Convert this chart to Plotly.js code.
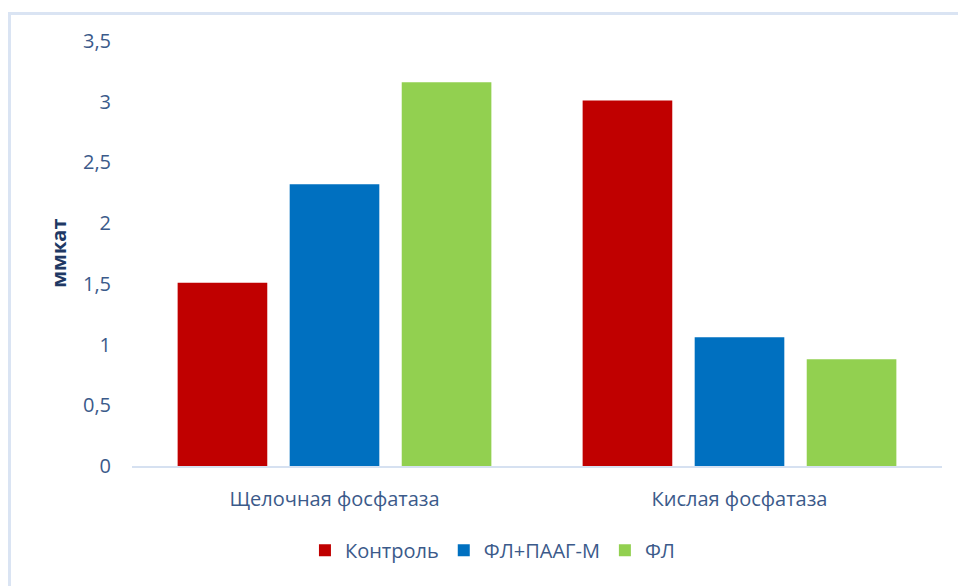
<!DOCTYPE html>
<html>
<head>
<meta charset="utf-8">
<script src="https://cdn.plot.ly/plotly-3.0.1.min.js"></script>
<style>
  html, body { margin: 0; padding: 0; background: #ffffff; }
  #wrap { position: relative; width: 958px; height: 586px; overflow: hidden; }
  #chart { position: absolute; left: 0; top: 0; width: 958px; height: 586px; }
  #frame { position: absolute; left: 8px; top: 12px; width: 960px; height: 600px;
           border-left: 3px solid #dae4f3; border-top: 3px solid #dae4f3; pointer-events: none; }
</style>
</head>
<body>
<div id="wrap">
  <div id="chart"></div>
  <div id="frame"></div>
</div>
<script>
// Enzyme activity by group
const categories = ["Щелочная фосфатаза", "Кислая фосфатаза"];
const seriesNames = ["Контроль", "ФЛ+ПААГ-М", "ФЛ"];
const controlValues = [1.51, 3.01];
const flPaagValues = [2.32, 1.06];
const flValues = [3.16, 0.88];
const yTickVals = [0, 0.5, 1, 1.5, 2, 2.5, 3, 3.5];
const yTickText = ["0", "0,5", "1", "1,5", "2", "2,5", "3", "3,5"];
const yTitle = "ммкат";

const colors = ["#c00000", "#0070c0", "#92d050"];
const textColor = "#3b5a8a";
const fontFamily = "Open Sans, Noto Sans, sans-serif";

const seriesValues = [controlValues, flPaagValues, flValues];
const traces = seriesNames.map((name, i) => ({
  type: "bar",
  name: name,
  x: categories,
  y: seriesValues[i],
  marker: { color: colors[i], line: { width: 0 } },
  hoverinfo: "x+y+name"
}));

const layout = {
  width: 958,
  height: 586,
  margin: { l: 132, r: 16, t: 41, b: 120 },
  paper_bgcolor: "#ffffff",
  plot_bgcolor: "#ffffff",
  font: { family: fontFamily, color: textColor, size: 20 },
  barmode: "group",
  bargap: 0.17,
  bargroupgap: 0.2,
  showlegend: true,
  legend: {
    orientation: "h",
    x: 0.445, xanchor: "center",
    y: -0.198, yanchor: "middle",
    font: { family: fontFamily, size: 20, color: textColor },
    itemwidth: 30,
    traceorder: "normal"
  },
  xaxis: {
    type: "category",
    showgrid: false,
    zeroline: false,
    showline: true,
    linecolor: "#d6e1f1",
    linewidth: 2,
    ticks: "",
    ticklabelstandoff: 14,
    tickfont: { family: fontFamily, size: 20, color: textColor }
  },
  yaxis: {
    range: [0, 3.5],
    tickvals: yTickVals,
    ticktext: yTickText,
    showgrid: false,
    zeroline: false,
    showline: false,
    ticks: "",
    ticklabelstandoff: 20,
    tickfont: { family: fontFamily, size: 20, color: textColor }
  },
  annotations: [{
    text: "<b>" + yTitle + "</b>",
    xref: "paper", yref: "paper",
    x: -0.091, y: 0.5,
    xanchor: "center", yanchor: "middle",
    textangle: -90,
    showarrow: false,
    font: { family: fontFamily, size: 20, color: "#203864" }
  }]
};

Plotly.newPlot("chart", traces, layout, { displayModeBar: false, staticPlot: true });
</script>
</body>
</html>
